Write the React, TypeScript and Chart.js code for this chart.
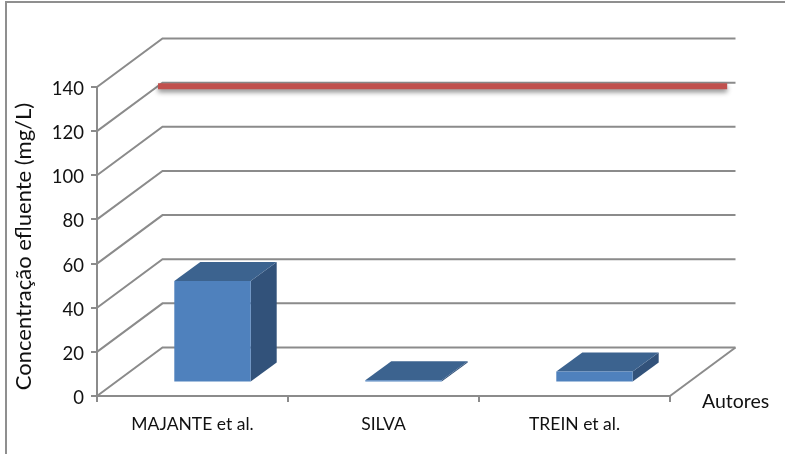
import React, { useEffect, useRef } from "react";
import { Chart, registerables } from "chart.js";

Chart.register(...registerables);

const authors = ["MAJANTE et al.", "SILVA", "TREIN et al."];
const effluent = [46, 1, 5];
const limitPositions = [-0.5, 2.48];
const limitValues = [120, 120];

const gridColor = "#8b8b8b";
const textColor = "#111111";
const fontFamily = "Lato, 'Open Sans', sans-serif";

// Oblique projection of the 3D box: wall depth, bar plane and bar depth.
const wallDepth = { x: 65.5, y: -48.5 };
const barPlane = { x: 20, y: -13.5 };
const barDepth = { x: 26, y: -19 };
const linePlane = { x: 61, y: -45 };

const pseudo3d = {
  id: "pseudo3d",
  beforeDatasetsDraw(chart: any) {
    const { ctx, chartArea, scales } = chart;
    const { left, right, bottom } = chartArea;
    ctx.save();
    ctx.strokeStyle = gridColor;
    ctx.lineWidth = 2;
    ctx.lineJoin = "miter";
    for (const tick of scales.y.ticks) {
      const y = scales.y.getPixelForValue(tick.value);
      ctx.beginPath();
      ctx.moveTo(left, y);
      ctx.lineTo(left + wallDepth.x, y + wallDepth.y);
      ctx.lineTo(right + wallDepth.x, y + wallDepth.y);
      ctx.stroke();
    }
    ctx.beginPath();
    ctx.moveTo(right, bottom);
    ctx.lineTo(right + wallDepth.x, bottom + wallDepth.y);
    ctx.stroke();
    ctx.restore();
  },
  beforeDatasetDraw(chart: any, args: any) {
    const { ctx } = chart;
    const meta = args.meta;
    if (meta.type === "bar") {
      ctx.save();
      ctx.translate(barPlane.x, barPlane.y);
      for (const bar of meta.data) {
        const l = bar.x - bar.width / 2;
        const r = bar.x + bar.width / 2;
        ctx.fillStyle = "#32527a";
        ctx.beginPath();
        ctx.moveTo(r, bar.y);
        ctx.lineTo(r + barDepth.x, bar.y + barDepth.y);
        ctx.lineTo(r + barDepth.x, bar.base + barDepth.y);
        ctx.lineTo(r, bar.base);
        ctx.closePath();
        ctx.fill();
        ctx.fillStyle = "#3c638f";
        ctx.beginPath();
        ctx.moveTo(l, bar.y);
        ctx.lineTo(l + barDepth.x, bar.y + barDepth.y);
        ctx.lineTo(r + barDepth.x, bar.y + barDepth.y);
        ctx.lineTo(r, bar.y);
        ctx.closePath();
        ctx.fill();
      }
    } else {
      ctx.save();
      ctx.translate(linePlane.x, linePlane.y);
      ctx.shadowColor = "rgba(0,0,0,0.45)";
      ctx.shadowBlur = 5;
      ctx.shadowOffsetY = 3;
    }
  },
  afterDatasetDraw(chart: any) {
    chart.ctx.restore();
  },
  afterDraw(chart: any) {
    const { ctx } = chart;
    ctx.save();
    // Frame around the chart, open on the right and at the bottom.
    ctx.strokeStyle = "#8f8f8f";
    ctx.lineWidth = 2;
    ctx.beginPath();
    ctx.moveTo(6, 454);
    ctx.lineTo(6, 2);
    ctx.lineTo(785, 2);
    ctx.stroke();
    // Axis titles: the category title sits at the end of the floor,
    // the value title runs up the left side.
    ctx.fillStyle = textColor;
    ctx.font = `19.5px ${fontFamily}`;
    ctx.textAlign = "left";
    ctx.textBaseline = "middle";
    ctx.fillText("Autores", 702, 402);
    ctx.translate(24, 246.5);
    ctx.rotate(-Math.PI / 2);
    ctx.font = `22px ${fontFamily}`;
    ctx.textAlign = "center";
    ctx.fillText("Concentração efluente (mg/L)", 0, 0);
    ctx.restore();
  },
};

export default function App() {
  const canvasRef = useRef<HTMLCanvasElement>(null);

  useEffect(() => {
    const chart = new Chart(canvasRef.current!, {
      data: {
        labels: authors,
        datasets: [
          {
            type: "line",
            label: "Limite",
            data: limitPositions.map((x, i) => ({ x, y: limitValues[i] })),
            xAxisID: "limitX",
            yAxisID: "y",
            borderColor: "#c0504d",
            borderWidth: 6,
            borderCapStyle: "butt",
            pointRadius: 0,
            clip: false,
            order: 0,
          },
          {
            type: "bar",
            label: "Concentração efluente",
            data: effluent,
            xAxisID: "x",
            yAxisID: "y",
            backgroundColor: "#4f81bd",
            barPercentage: 0.4,
            categoryPercentage: 1,
            grouped: false,
            clip: false,
            order: 1,
          },
        ],
      } as any,
      options: {
        responsive: false,
        animation: false,
        layout: { padding: { top: 87, right: 115, left: 0, bottom: 0 } },
        plugins: { legend: { display: false }, tooltip: { enabled: false } },
        scales: {
          x: {
            type: "category",
            position: "bottom",
            afterFit(scale: any) {
              scale.height = 58;
            },
            border: { color: gridColor, width: 2 },
            grid: { drawOnChartArea: false, color: gridColor, lineWidth: 2, tickLength: 6 },
            ticks: {
              color: textColor,
              padding: 12,
              maxRotation: 0,
              font: { family: fontFamily, size: 17.5 },
            },
          },
          limitX: { type: "linear", display: false, min: -0.5, max: 2.5 },
          y: {
            min: 0,
            max: 140,
            afterFit(scale: any) {
              scale.width = 97;
            },
            border: { color: gridColor, width: 2 },
            grid: { drawOnChartArea: false, color: gridColor, lineWidth: 2, tickLength: 6 },
            ticks: {
              stepSize: 20,
              color: textColor,
              padding: 7,
              labelOffset: 2,
              font: { family: fontFamily, size: 18.5 },
            },
          },
        },
      },
      plugins: [pseudo3d],
    } as any);
    return () => chart.destroy();
  }, []);

  return (
    <div style={{ position: "absolute", left: 0, top: 0, width: 785, height: 454, background: "#fff" }}>
      <canvas ref={canvasRef} width={785} height={454} style={{ display: "block" }} />
    </div>
  );
}
